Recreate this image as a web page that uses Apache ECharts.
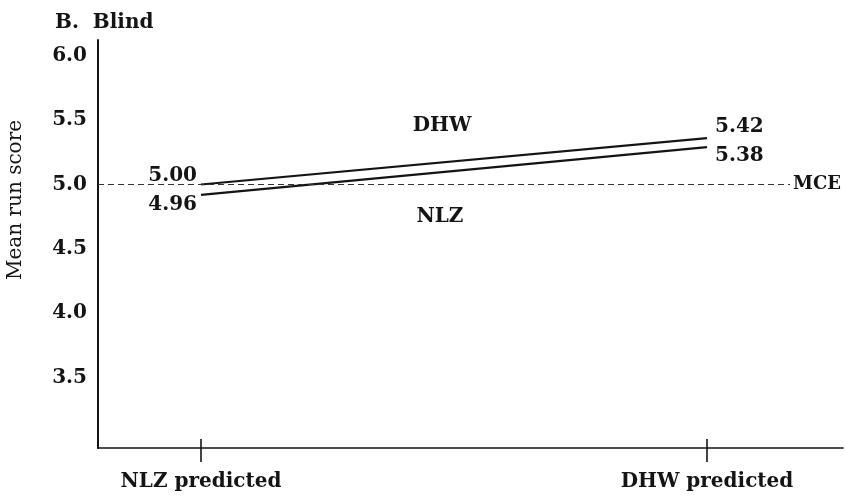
<!DOCTYPE html>
<html>
<head>
<meta charset="utf-8">
<script src="https://cdn.jsdelivr.net/npm/echarts@6/dist/echarts.min.js"></script>
<style>
  html, body { margin: 0; padding: 0; background: #fff; }
  #chart { width: 845px; height: 496px; }
</style>
</head>
<body>
<div id="chart"></div>
<script>
const categories = ['NLZ predicted', 'DHW predicted'];
const dhwValues = [5.00, 5.36];
const nlzValues = [4.92, 5.29];
const dhwLabels = ['5.00', '5.42'];
const nlzLabels = ['4.96', '5.38'];
const yTickValues = [3.5, 4.0, 4.5, 5.0, 5.5, 6.0];
const mceValue = 5.0;

const FONT = 'DejaVu Serif';
const INK = '#141414';
const W = 'bold';

const xMin = -0.2036, xMax = 1.2688;

function buildData(values, labels, up) {
  return values.map((v, i) => ({
    value: [i, v],
    label: {
      show: true,
      formatter: labels[i],
      position: i === 0 ? 'left' : 'right',
      distance: i === 0 ? 4 : 8,
      offset: [0, (i === 0 ? (up ? -9 : 10) : (up ? -11 : 9))],
      fontFamily: FONT, fontSize: 20, fontWeight: W, color: INK
    }
  }));
}

const chart = echarts.init(document.getElementById('chart'));
chart.setOption({
  animation: false,
  backgroundColor: '#fff',
  grid: { left: 98, right: 2, top: 40, bottom: 48 },
  xAxis: [{
    type: 'value', min: xMin, max: xMax,
    splitLine: { show: false },
    axisLine: { show: true, onZero: false, lineStyle: { color: INK, width: 1.6 } },
    axisTick: { show: true, customValues: [0, 1], length: 14, lineStyle: { color: INK, width: 1.6 } },
    axisLabel: {
      customValues: [0, 1],
      formatter: v => categories[Math.round(v)],
      margin: 24, fontFamily: FONT, fontSize: 20, fontWeight: W, color: INK
    }
  }, {
    type: 'value', min: xMin, max: xMax, position: 'bottom',
    splitLine: { show: false },
    axisLine: { show: false, onZero: false },
    axisTick: { show: true, inside: true, customValues: [0, 1], length: 9, lineStyle: { color: INK, width: 1.6 } },
    axisLabel: { show: false }
  }],
  yAxis: {
    type: 'value', min: 2.954, max: 6.122,
    splitLine: { show: false },
    axisLine: { show: true, onZero: false, lineStyle: { color: INK, width: 2 } },
    axisTick: { show: false },
    axisLabel: {
      customValues: yTickValues,
      formatter: v => v.toFixed(1),
      margin: 11, fontFamily: FONT, fontSize: 20, fontWeight: W, color: INK
    }
  },
  series: [{
    name: 'DHW', type: 'line', xAxisIndex: 0,
    data: buildData(dhwValues, dhwLabels, true),
    symbol: 'circle', symbolSize: 0.01, showSymbol: true,
    itemStyle: { color: 'rgba(0,0,0,0)' },
    lineStyle: { color: INK, width: 2.2 },
    markLine: {
      silent: true, symbol: 'none',
      lineStyle: { color: '#333', width: 1.2, type: [6, 4] },
      label: { show: true, position: 'end', formatter: 'MCE', distance: 3, fontFamily: FONT, fontSize: 18, fontWeight: W, color: INK },
      data: [[{ coord: [xMin, mceValue] }, { coord: [1.164, mceValue] }]]
    }
  }, {
    name: 'NLZ', type: 'line', xAxisIndex: 0,
    data: buildData(nlzValues, nlzLabels, false),
    symbol: 'circle', symbolSize: 0.01, showSymbol: true,
    itemStyle: { color: 'rgba(0,0,0,0)' },
    lineStyle: { color: INK, width: 2.2 }
  }],
  graphic: [
    { type: 'text', left: 55, top: 13, style: { text: 'B.  Blind', font: 'bold 20px "DejaVu Serif"', fill: INK } },
    { type: 'text', x: 16, y: 200, rotation: Math.PI / 2, style: { text: 'Mean run score', font: '20px "DejaVu Serif"', fill: INK, align: 'center', verticalAlign: 'middle' } },
    { type: 'text', x: 442, y: 126, style: { text: 'DHW', font: 'bold 20px "DejaVu Serif"', fill: INK, align: 'center', verticalAlign: 'middle' } },
    { type: 'text', x: 440, y: 217, style: { text: 'NLZ', font: 'bold 20px "DejaVu Serif"', fill: INK, align: 'center', verticalAlign: 'middle' } }
  ]
});
</script>
</body>
</html>
